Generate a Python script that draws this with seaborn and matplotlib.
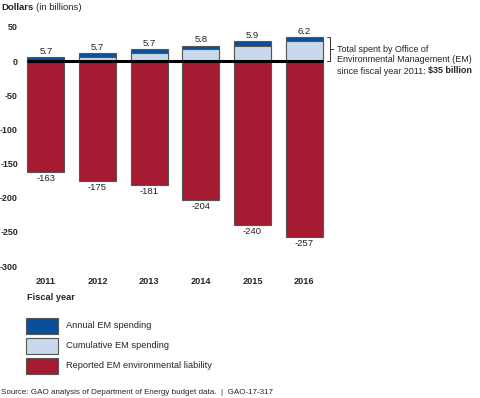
import pandas as pd
import matplotlib.pyplot as plt
import seaborn as sns
from matplotlib.patches import Rectangle

# values (billions of dollars)
years = ["2011", "2012", "2013", "2014", "2015", "2016"]
annual = [5.7, 5.7, 5.7, 5.8, 5.9, 6.2]
liability = [-163, -175, -181, -204, -240, -257]
yticks = [50, 0, -50, -100, -150, -200, -250, -300]

cum_total = pd.Series(annual).cumsum().round(1).tolist()
cum_prev = [0] + cum_total[:-1]

data = pd.DataFrame({"year": years, "annual": annual, "total": cum_total,
                     "prev": cum_prev, "liability": liability})

dark_blue = "#0b4f9b"
light_blue = "#c7d9ea"
red = "#a51931"
edge = "#555555"

sns.set_style("white")
plt.rcParams["font.family"] = ["Liberation Sans", "DejaVu Sans"]

W, H = 480, 398
fig = plt.figure(figsize=(4.8, 3.98), dpi=100)
ax = fig.add_axes([20 / W, 1 - 266 / H, 310 / W, 239 / H])

bw = 0.72
sns.barplot(data=data, x="year", y="liability", color=red, saturation=1,
            width=bw, edgecolor=edge, linewidth=0.8, ax=ax)
sns.barplot(data=data, x="year", y="total", color=dark_blue, saturation=1,
            width=bw, edgecolor=edge, linewidth=0.8, ax=ax)
sns.barplot(data=data, x="year", y="prev", color=light_blue, saturation=1,
            width=bw, edgecolor=edge, linewidth=0.8, ax=ax)

ax.hlines(0, -bw / 2, len(years) - 1 + bw / 2, color="black", lw=2.2, zorder=5)

for i, row in data.iterrows():
    ax.text(i, row["total"] + 2, f"{row['annual']:.1f}", ha="center", va="bottom",
            fontsize=6.8, color="#222222")
    ax.text(i, row["liability"] - 3, f"{row['liability']}", ha="center", va="top",
            fontsize=6.8, color="#222222")

ax.set_xlim(-0.5, 5.5)
ax.set_ylim(-300, 50)
ax.set_yticks(yticks)
ax.set_yticklabels([str(v) for v in yticks], fontweight="bold", fontsize=6.4)
ax.set_xticks(range(len(years)))
ax.set_xticklabels(years, fontweight="bold", fontsize=6.6)
ax.tick_params(axis="y", length=0, pad=1.5)
ax.tick_params(axis="x", length=0, pad=8)
ax.set_xlabel("")
ax.set_ylabel("")
for s in ax.spines.values():
    s.set_visible(False)

# bracket for total spent
top = cum_total[-1]
bx0, bx1 = 5.45, 5.5
ax.plot([bx0, bx1, bx1, bx0], [top, top, 0, 0], color="#333333", lw=0.7,
        clip_on=False)
ax.plot([bx1, bx1 + 0.05], [top / 2, top / 2], color="#333333", lw=0.7,
        clip_on=False)

fs = 6.5
fig.text(337 / W, 1 - 49 / H, "Total spent by Office of", fontsize=fs, va="center")
fig.text(337 / W, 1 - 60 / H, "Environmental Management (EM)", fontsize=fs, va="center")
t = fig.text(337 / W, 1 - 71 / H, "since fiscal year 2011: ", fontsize=fs, va="center")
fig.canvas.draw()
ax.annotate(f"${top:.0f} billion", xy=(1, 0.5), xycoords=t, va="center",
            fontsize=fs, fontweight="bold")

# titles
fig.text(1 / W, 1 - 7 / H, "Dollars", fontsize=6.8, fontweight="bold", va="center")
fig.text(36 / W, 1 - 7 / H, "(in billions)", fontsize=6.8, va="center")
fig.text(27 / W, 1 - 298 / H, "Fiscal year", fontsize=6.7, fontweight="bold", va="center")

# legend
labels = ["Annual EM spending", "Cumulative EM spending",
          "Reported EM environmental liability"]
colors = [dark_blue, light_blue, red]
for k, (lab, col) in enumerate(zip(labels, colors)):
    y0 = 318 + 20 * k
    fig.add_artist(Rectangle((26 / W, 1 - (y0 + 16) / H), 32 / W, 16 / H,
                             transform=fig.transFigure, facecolor=col,
                             edgecolor=edge, lw=0.8))
    fig.text(66 / W, 1 - (y0 + 8) / H, lab, fontsize=6.7, va="center")

fig.text(1 / W, 1 - 392 / H,
         "Source: GAO analysis of Department of Energy budget data.  |  GAO-17-317",
         fontsize=5.8, va="center")

fig.savefig("out.png", dpi=100)
